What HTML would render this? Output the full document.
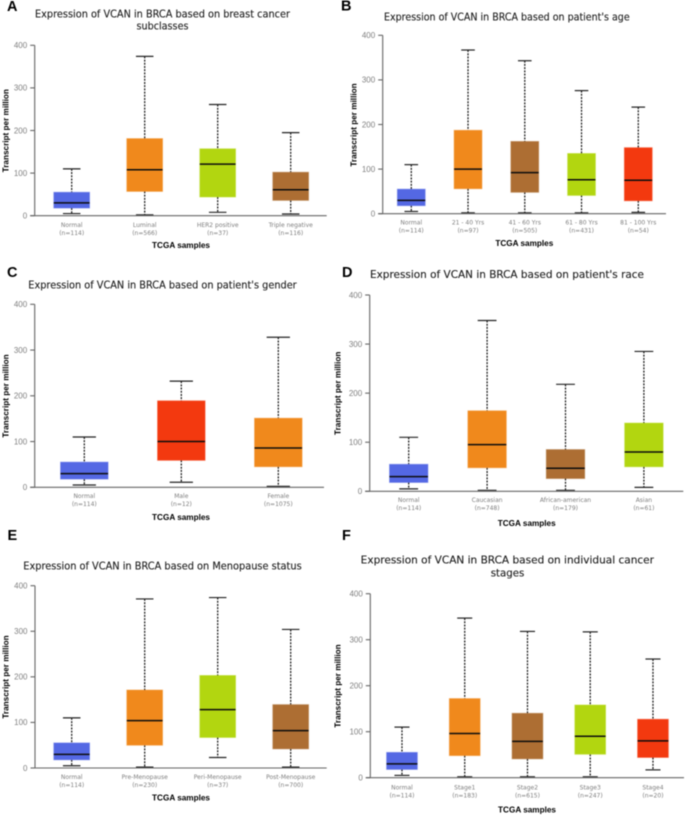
<!DOCTYPE html>
<html lang="en">
<head>
<meta charset="utf-8">
<title>Expression of VCAN in BRCA</title>
<style>
html,body{margin:0;padding:0;background:#fff;width:685px;height:816px;overflow:hidden}
svg{display:block;filter:blur(0.45px)}
.panel-letter{font:bold 14.5px "Liberation Sans",sans-serif;fill:#000}
.chart-title{font:10.5px "DejaVu Sans","Liberation Sans",sans-serif;fill:#1c1c1c;stroke:#1c1c1c;stroke-width:0.12px}
.tick-label{font:8px "Liberation Sans",sans-serif;fill:#808080;text-anchor:end}
.cat-label{font:6px "DejaVu Sans",sans-serif;fill:#7e7e7e;text-anchor:middle}
.axis-title{font:bold 8.2px "Liberation Sans",sans-serif;fill:#000;text-anchor:middle}
</style>
</head>
<body>
<svg id="fig" width="685" height="816" viewBox="0 0 685 816" xmlns="http://www.w3.org/2000/svg">
  <text class="panel-letter" x="7" y="11">A</text>
  <text class="panel-letter" x="341" y="10.5">B</text>
  <text class="panel-letter" x="7" y="277">C</text>
  <text class="panel-letter" x="342" y="277">D</text>
  <text class="panel-letter" x="7.5" y="540">E</text>
  <text class="panel-letter" x="342" y="540">F</text>

  <text class="chart-title" x="35" y="17.5" textLength="255" lengthAdjust="spacingAndGlyphs">Expression of VCAN in BRCA based on breast cancer</text>
  <text class="chart-title" x="136.5" y="29.5" textLength="52" lengthAdjust="spacingAndGlyphs">subclasses</text>
  <text class="chart-title" x="384" y="20.5" textLength="245.7" lengthAdjust="spacingAndGlyphs">Expression of VCAN in BRCA based on patient's age</text>
  <text class="chart-title" x="28.3" y="288.5" textLength="268.4" lengthAdjust="spacingAndGlyphs">Expression of VCAN in BRCA based on patient's gender</text>
  <text class="chart-title" x="370" y="278" textLength="274" lengthAdjust="spacingAndGlyphs">Expression of VCAN in BRCA based on patient's race</text>
  <text class="chart-title" x="23.3" y="569.5" textLength="278.4" lengthAdjust="spacingAndGlyphs">Expression of VCAN in BRCA based on Menopause status</text>
  <text class="chart-title" x="360.7" y="563.5" textLength="293.3" lengthAdjust="spacingAndGlyphs">Expression of VCAN in BRCA based on individual cancer</text>
  <text class="chart-title" x="490.7" y="576.3" textLength="33.7" lengthAdjust="spacingAndGlyphs">stages</text>
</svg>
<script>
const yTicks = [0, 100, 200, 300, 400];

const aCategories = ['Normal', 'Luminal', 'HER2 positive', 'Triple negative'];
const aCounts = [114, 566, 37, 116];
const aLow = [5, 2, 8, 4];
const aQ1 = [18, 57, 44, 36];
const aMedian = [30, 108, 121, 61];
const aQ3 = [55, 181, 157, 102];
const aHigh = [110, 374, 261, 195];

const bCategories = ['Normal', '21 - 40 Yrs', '41 - 60 Yrs', '61 - 80 Yrs', '81 - 100 Yrs'];
const bCounts = [114, 97, 505, 431, 54];
const bLow = [5, 2, 2, 2, 3];
const bQ1 = [18, 56, 48, 41, 29];
const bMedian = [30, 100, 92, 76, 75];
const bQ3 = [55, 187, 162, 135, 148];
const bHigh = [110, 367, 343, 276, 239];

const cCategories = ['Normal', 'Male', 'Female'];
const cCounts = [114, 12, 1075];
const cLow = [5, 11, 2];
const cQ1 = [18, 59, 45];
const cMedian = [30, 100, 86];
const cQ3 = [55, 189, 151];
const cHigh = [110, 232, 328];

const dCategories = ['Normal', 'Caucasian', 'African-american', 'Asian'];
const dCounts = [114, 748, 179, 61];
const dLow = [5, 2, 2, 8];
const dQ1 = [18, 48, 26, 50];
const dMedian = [30, 95, 47, 80];
const dQ3 = [55, 164, 85, 139];
const dHigh = [110, 348, 218, 285];

const eCategories = ['Normal', 'Pre-Menopause', 'Peri-Menopause', 'Post-Menopause'];
const eCounts = [114, 230, 37, 700];
const eLow = [5, 2, 23, 2];
const eQ1 = [18, 50, 67, 42];
const eMedian = [30, 104, 128, 82];
const eQ3 = [55, 171, 203, 139];
const eHigh = [110, 371, 374, 304];

const fCategories = ['Normal', 'Stage1', 'Stage2', 'Stage3', 'Stage4'];
const fCounts = [114, 183, 615, 247, 20];
const fLow = [5, 2, 2, 2, 17];
const fQ1 = [18, 48, 41, 51, 44];
const fMedian = [30, 96, 79, 90, 80];
const fQ3 = [55, 172, 140, 158, 127];
const fHigh = [110, 347, 318, 317, 258];

const palette = {blue: '#5468e4', orange: '#f0891c', green: '#b2d610', brown: '#ad6e33', red: '#f3390f'};

const panels = [
  {id: 'a', cats: aCategories, n: aCounts, lo: aLow, q1: aQ1, med: aMedian, q3: aQ3, hi: aHigh,
   fills: ['blue', 'orange', 'green', 'brown'],
   x0: 35.2, band: 73, xEnd: 326.7, yTop: 45.3, yZero: 215.7, axisX: 34.7, labelY: 11.2, xTitleX: 181, xTitleY: 248, yTitleX: 8.5, yTitleY: 130.7},
  {id: 'b', cats: bCategories, n: bCounts, lo: bLow, q1: bQ1, med: bMedian, q3: bQ3, hi: bHigh,
   fills: ['blue', 'orange', 'brown', 'green', 'red'],
   x0: 382.9, band: 56.75, xEnd: 666, yTop: 35.3, yZero: 213.7, axisX: 382.7, labelY: 10.9, xTitleX: 524.3, xTitleY: 246, yTitleX: 356.5, yTitleY: 125},
  {id: 'c', cats: cCategories, n: cCounts, lo: cLow, q1: cQ1, med: cMedian, q3: cQ3, hi: cHigh,
   fills: ['blue', 'red', 'orange'],
   x0: 35.8, band: 97, xEnd: 324, yTop: 304.3, yZero: 487.3, axisX: 34.7, labelY: 10.8, xTitleX: 181, xTitleY: 520, yTitleX: 8.5, yTitleY: 396},
  {id: 'd', cats: dCategories, n: dCounts, lo: dLow, q1: dQ1, med: dMedian, q3: dQ3, hi: dHigh,
   fills: ['blue', 'orange', 'brown', 'green'],
   x0: 369.5, band: 78.4, xEnd: 683.3, yTop: 295, yZero: 491.3, axisX: 369.7, labelY: 10.8, xTitleX: 526.7, xTitleY: 526, yTitleX: 340.5, yTitleY: 393.3},
  {id: 'e', cats: eCategories, n: eCounts, lo: eLow, q1: eQ1, med: eMedian, q3: eQ3, hi: eHigh,
   fills: ['blue', 'orange', 'green', 'brown'],
   x0: 35.2, band: 73, xEnd: 326.7, yTop: 585.7, yZero: 768, axisX: 35, labelY: 10.8, xTitleX: 181, xTitleY: 800.7, yTitleX: 8.5, yTitleY: 677},
  {id: 'f', cats: fCategories, n: fCounts, lo: fLow, q1: fQ1, med: fMedian, q3: fQ3, hi: fHigh,
   fills: ['blue', 'orange', 'brown', 'green', 'red'],
   x0: 370.6, band: 62.75, xEnd: 684, yTop: 593.7, yZero: 777.7, axisX: 370.3, labelY: 11.6, xTitleX: 527, xTitleY: 812.5, yTitleX: 340.5, yTitleY: 686}
];

const NS = 'http://www.w3.org/2000/svg';
const fig = document.getElementById('fig');

function line(parent, x1, y1, x2, y2, stroke, width, dash) {
  const el = document.createElementNS(NS, 'line');
  el.setAttribute('x1', x1);
  el.setAttribute('y1', y1);
  el.setAttribute('x2', x2);
  el.setAttribute('y2', y2);
  el.setAttribute('stroke', stroke);
  el.setAttribute('stroke-width', width);
  if (dash) el.setAttribute('stroke-dasharray', dash);
  parent.appendChild(el);
  return el;
}

function label(parent, cls, x, y, str) {
  const el = document.createElementNS(NS, 'text');
  el.setAttribute('class', cls);
  el.setAttribute('x', x);
  el.setAttribute('y', y);
  el.textContent = str;
  parent.appendChild(el);
  return el;
}

panels.forEach(function (p) {
  const yScale = function (v) { return p.yZero - (v / 400) * (p.yZero - p.yTop); };
  const xScale = function (i) { return p.x0 + (i + 0.5) * p.band; };
  const boxW = p.band * 0.49;
  const capW = p.band * 0.24;

  const g = document.createElementNS(NS, 'g');
  
  
  fig.appendChild(g);

  yTicks.forEach(function (t) {
    const tick = line(g, p.axisX - 4.5, yScale(t), p.axisX, yScale(t), '#666', 1.1);
    
    
    const tl = label(g, 'tick-label', p.axisX - 7.5, yScale(t) + 2.8, String(t));
    
    
  });

  p.cats.forEach(function (cat, i) {
    const cx = xScale(i);
    const slug = 'panel-' + p.id + '-' + cat.toLowerCase().replace(/[^a-z0-9]+/g, '-');

    const whiskerTop = line(g, cx, yScale(p.hi[i]), cx, yScale(p.q3[i]), '#111', 1.2, '2 1.2');
    
    

    const whiskerBottom = line(g, cx, yScale(p.q1[i]), cx, yScale(p.lo[i]), '#111', 1.2, '2 1.2');
    
    

    const capTop = line(g, cx - capW / 2, yScale(p.hi[i]), cx + capW / 2, yScale(p.hi[i]), '#222', 1.2);
    
    

    const capBottom = line(g, cx - capW / 2, yScale(p.lo[i]), cx + capW / 2, yScale(p.lo[i]), '#222', 1.2);
    
    

    const box = document.createElementNS(NS, 'rect');
    box.setAttribute('x', cx - boxW / 2);
    box.setAttribute('y', yScale(p.q3[i]));
    box.setAttribute('width', boxW);
    box.setAttribute('height', yScale(p.q1[i]) - yScale(p.q3[i]));
    box.setAttribute('fill', palette[p.fills[i]]);
    box.setAttribute('stroke', palette[p.fills[i]]);
    box.setAttribute('stroke-opacity', '0.45');
    box.setAttribute('stroke-width', '1');
    
    
    g.appendChild(box);

    const median = line(g, cx - boxW / 2, yScale(p.med[i]), cx + boxW / 2, yScale(p.med[i]), '#0d0d0d', 1.5);
    
    

    const catLabel = label(g, 'cat-label', cx, p.yZero + p.labelY, cat);
    
    

    const countLabel = label(g, 'cat-label', cx, p.yZero + p.labelY + 8, '(n=' + p.n[i] + ')');
    
    
  });

  const yAxis = line(g, p.axisX, p.yTop, p.axisX, p.yZero, '#666', 1.1);
  
  

  const xAxis = line(g, p.axisX - 4.5, p.yZero, p.xEnd, p.yZero, '#666', 1.1);
  
  

  const xTitle = label(g, 'axis-title', p.xTitleX, p.xTitleY, 'TCGA samples');
  
  

  const yTitle = label(g, 'axis-title', p.yTitleX, p.yTitleY, 'Transcript per million');
  yTitle.setAttribute('transform', 'rotate(-90 ' + p.yTitleX + ' ' + p.yTitleY + ')');
  
  
});
</script>
</body>
</html>
